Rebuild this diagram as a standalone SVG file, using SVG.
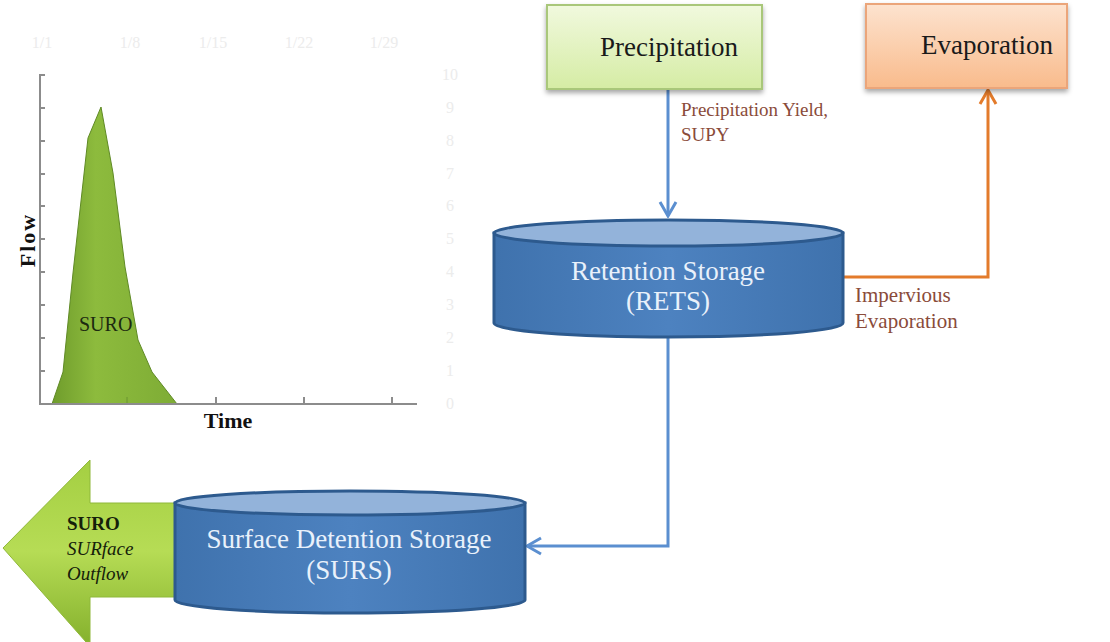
<svg xmlns="http://www.w3.org/2000/svg" width="1110" height="642" viewBox="0 0 1110 642">
  <defs>
    <linearGradient id="gPrecip" x1="0" y1="0" x2="0" y2="1">
      <stop offset="0" stop-color="#f1f9de"/>
      <stop offset="1" stop-color="#d5eca4"/>
    </linearGradient>
    <linearGradient id="gEvap" x1="0" y1="0" x2="0" y2="1">
      <stop offset="0" stop-color="#fde3cf"/>
      <stop offset="1" stop-color="#f9bb8c"/>
    </linearGradient>
    <linearGradient id="gArea" x1="0" y1="0" x2="1" y2="0">
      <stop offset="0" stop-color="#6f9c2c"/>
      <stop offset="0.35" stop-color="#8dbb3d"/>
      <stop offset="1" stop-color="#7eac35"/>
    </linearGradient>
    <linearGradient id="gArrow" x1="0" y1="0" x2="0" y2="1">
      <stop offset="0" stop-color="#a4cf42"/>
      <stop offset="0.5" stop-color="#b6dc55"/>
      <stop offset="1" stop-color="#86b22e"/>
    </linearGradient>
    <linearGradient id="gCyl" x1="0" y1="0" x2="1" y2="0">
      <stop offset="0" stop-color="#3f72ad"/>
      <stop offset="0.5" stop-color="#4d82c0"/>
      <stop offset="1" stop-color="#3f72ad"/>
    </linearGradient>
    <filter id="shadow" x="-10%" y="-10%" width="120%" height="130%">
      <feDropShadow dx="0" dy="3" stdDeviation="2.5" flood-color="#000" flood-opacity="0.35"/>
    </filter>
    <marker id="arrBlue" viewBox="0 0 20 20" refX="18" refY="10" markerWidth="20" markerHeight="20" markerUnits="userSpaceOnUse" orient="auto">
      <path d="M4,2 L18,10 L4,18" fill="none" stroke="#5b8fd0" stroke-width="3"/>
    </marker>
    <marker id="arrOrange" viewBox="0 0 20 20" refX="18" refY="10" markerWidth="20" markerHeight="20" markerUnits="userSpaceOnUse" orient="auto">
      <path d="M4,2 L18,10 L4,18" fill="none" stroke="#e37b2b" stroke-width="3"/>
    </marker>
  </defs>
  <style>
    text { font-family: "Liberation Serif", "DejaVu Serif", serif; }
    .boxLabel { font-size: 27px; fill: #1a1a1a; text-anchor: middle; }
    .cylLabel { font-size: 27px; fill: #e9f1fb; text-anchor: middle; }
    .edgeLabel { font-size: 19px; fill: #8a4b3a; }
    .edgeLabelWide { font-size: 21px; fill: #8a4b3a; }
    .faint { font-size: 16px; fill: #ececec; }
    .axis { stroke: #8c8c8c; stroke-width: 2; fill: none; }
    .cylBody { fill: url(#gCyl); stroke: #2d5a8e; stroke-width: 3; }
    .cylTop { fill: #93b3da; stroke: #2d5a8e; stroke-width: 3; }
  </style>

  <rect width="1110" height="642" fill="#ffffff"/>

  <!-- hydrograph -->
  <g id="chart">
    <g class="faint" text-anchor="middle">
      <text x="42" y="48">1/1</text>
      <text x="130" y="48">1/8</text>
      <text x="213" y="48">1/15</text>
      <text x="299" y="48">1/22</text>
      <text x="384" y="48">1/29</text>
    </g>
    <g class="faint" text-anchor="middle">
      <text x="450" y="80">10</text>
      <text x="450" y="113">9</text>
      <text x="450" y="146">8</text>
      <text x="450" y="179">7</text>
      <text x="450" y="211">6</text>
      <text x="450" y="244">5</text>
      <text x="450" y="277">4</text>
      <text x="450" y="310">3</text>
      <text x="450" y="343">2</text>
      <text x="450" y="376">1</text>
      <text x="450" y="409">0</text>
    </g>
    <path d="M52,404 L63,372 L73,273 L88,138 L101,107 L113,173 L125,267 L138,340 L152,372 L177,404 Z" fill="url(#gArea)" stroke="#5f8a25" stroke-width="1"/>
    <line x1="127" y1="404" x2="127" y2="397" stroke="#6b9430" stroke-width="1"/>
    <path class="axis" d="M45,75 H40 V404 H417"/>
    <path class="axis" d="M40,108 H45 M40,141 H45 M40,174 H45 M40,206 H45 M40,239 H45 M40,272 H45 M40,305 H45 M40,338 H45 M40,371 H45"/>
    <path class="axis" d="M216,404 V397 M304,404 V397 M392,404 V397"/>
    <text x="79" y="331" font-size="20" fill="#1c2a10">SURO</text>
    <text x="228" y="428" font-size="22" font-weight="bold" text-anchor="middle" fill="#111">Time</text>
    <text transform="translate(35,240) rotate(-90)" font-size="22" font-weight="bold" letter-spacing="2" text-anchor="middle" fill="#111">Flow</text>
  </g>

  <!-- connectors -->
  <g id="connectors" fill="none">
    <line x1="668" y1="90" x2="668" y2="216" stroke="#5b8fd0" stroke-width="3" marker-end="url(#arrBlue)"/>
    <polyline points="843,277 988,277 988,90" stroke="#e37b2b" stroke-width="3" marker-end="url(#arrOrange)"/>
    <polyline points="668,337 668,546 527,546" stroke="#5b8fd0" stroke-width="3" marker-end="url(#arrBlue)"/>
    <g class="edgeLabel">
      <text x="681" y="116">Precipitation Yield,</text>
      <text x="681" y="141">SUPY</text>
    </g>
    <g class="edgeLabelWide">
      <text x="855" y="302">Impervious</text>
      <text x="855" y="328">Evaporation</text>
    </g>
  </g>

  <!-- boxes -->
  <g id="precipitation">
    <rect x="547" y="5" width="215" height="84" fill="url(#gPrecip)" stroke="#a9c77a" stroke-width="2" filter="url(#shadow)"/>
    <text class="boxLabel" x="669" y="56">Precipitation</text>
  </g>
  <g id="evaporation">
    <rect x="866" y="4" width="201" height="84" fill="url(#gEvap)" stroke="#eba57a" stroke-width="2" filter="url(#shadow)"/>
    <text class="boxLabel" x="987" y="54">Evaporation</text>
  </g>

  <!-- retention storage cylinder -->
  <g id="rets">
    <path class="cylBody" d="M494,233 V323 A174.5,14 0 0 0 843,323 V233 Z"/>
    <ellipse class="cylTop" cx="668.5" cy="233" rx="174.5" ry="13"/>
    <text class="cylLabel" x="668" y="280">Retention Storage</text>
    <text class="cylLabel" x="668" y="310">(RETS)</text>
  </g>

  <!-- outflow arrow -->
  <g id="suro-outflow">
    <path d="M3,548 L90,460 L90,503 L185,503 L185,597 L90,597 L90,642 L86,642 Z" fill="url(#gArrow)" stroke="#8fb83a" stroke-width="1"/>
    <g font-size="19" fill="#15200a">
      <text x="67" y="530" font-weight="bold">SURO</text>
      <text x="67" y="555" font-style="italic">SURface</text>
      <text x="67" y="580" font-style="italic">Outflow</text>
    </g>
  </g>

  <!-- surface detention storage cylinder -->
  <g id="surs">
    <path class="cylBody" d="M175,503 V600 A175,13 0 0 0 525,600 V503 Z"/>
    <ellipse class="cylTop" cx="350" cy="503" rx="175" ry="12"/>
    <text class="cylLabel" x="349" y="548">Surface Detention Storage</text>
    <text class="cylLabel" x="349" y="579">(SURS)</text>
  </g>
</svg>
